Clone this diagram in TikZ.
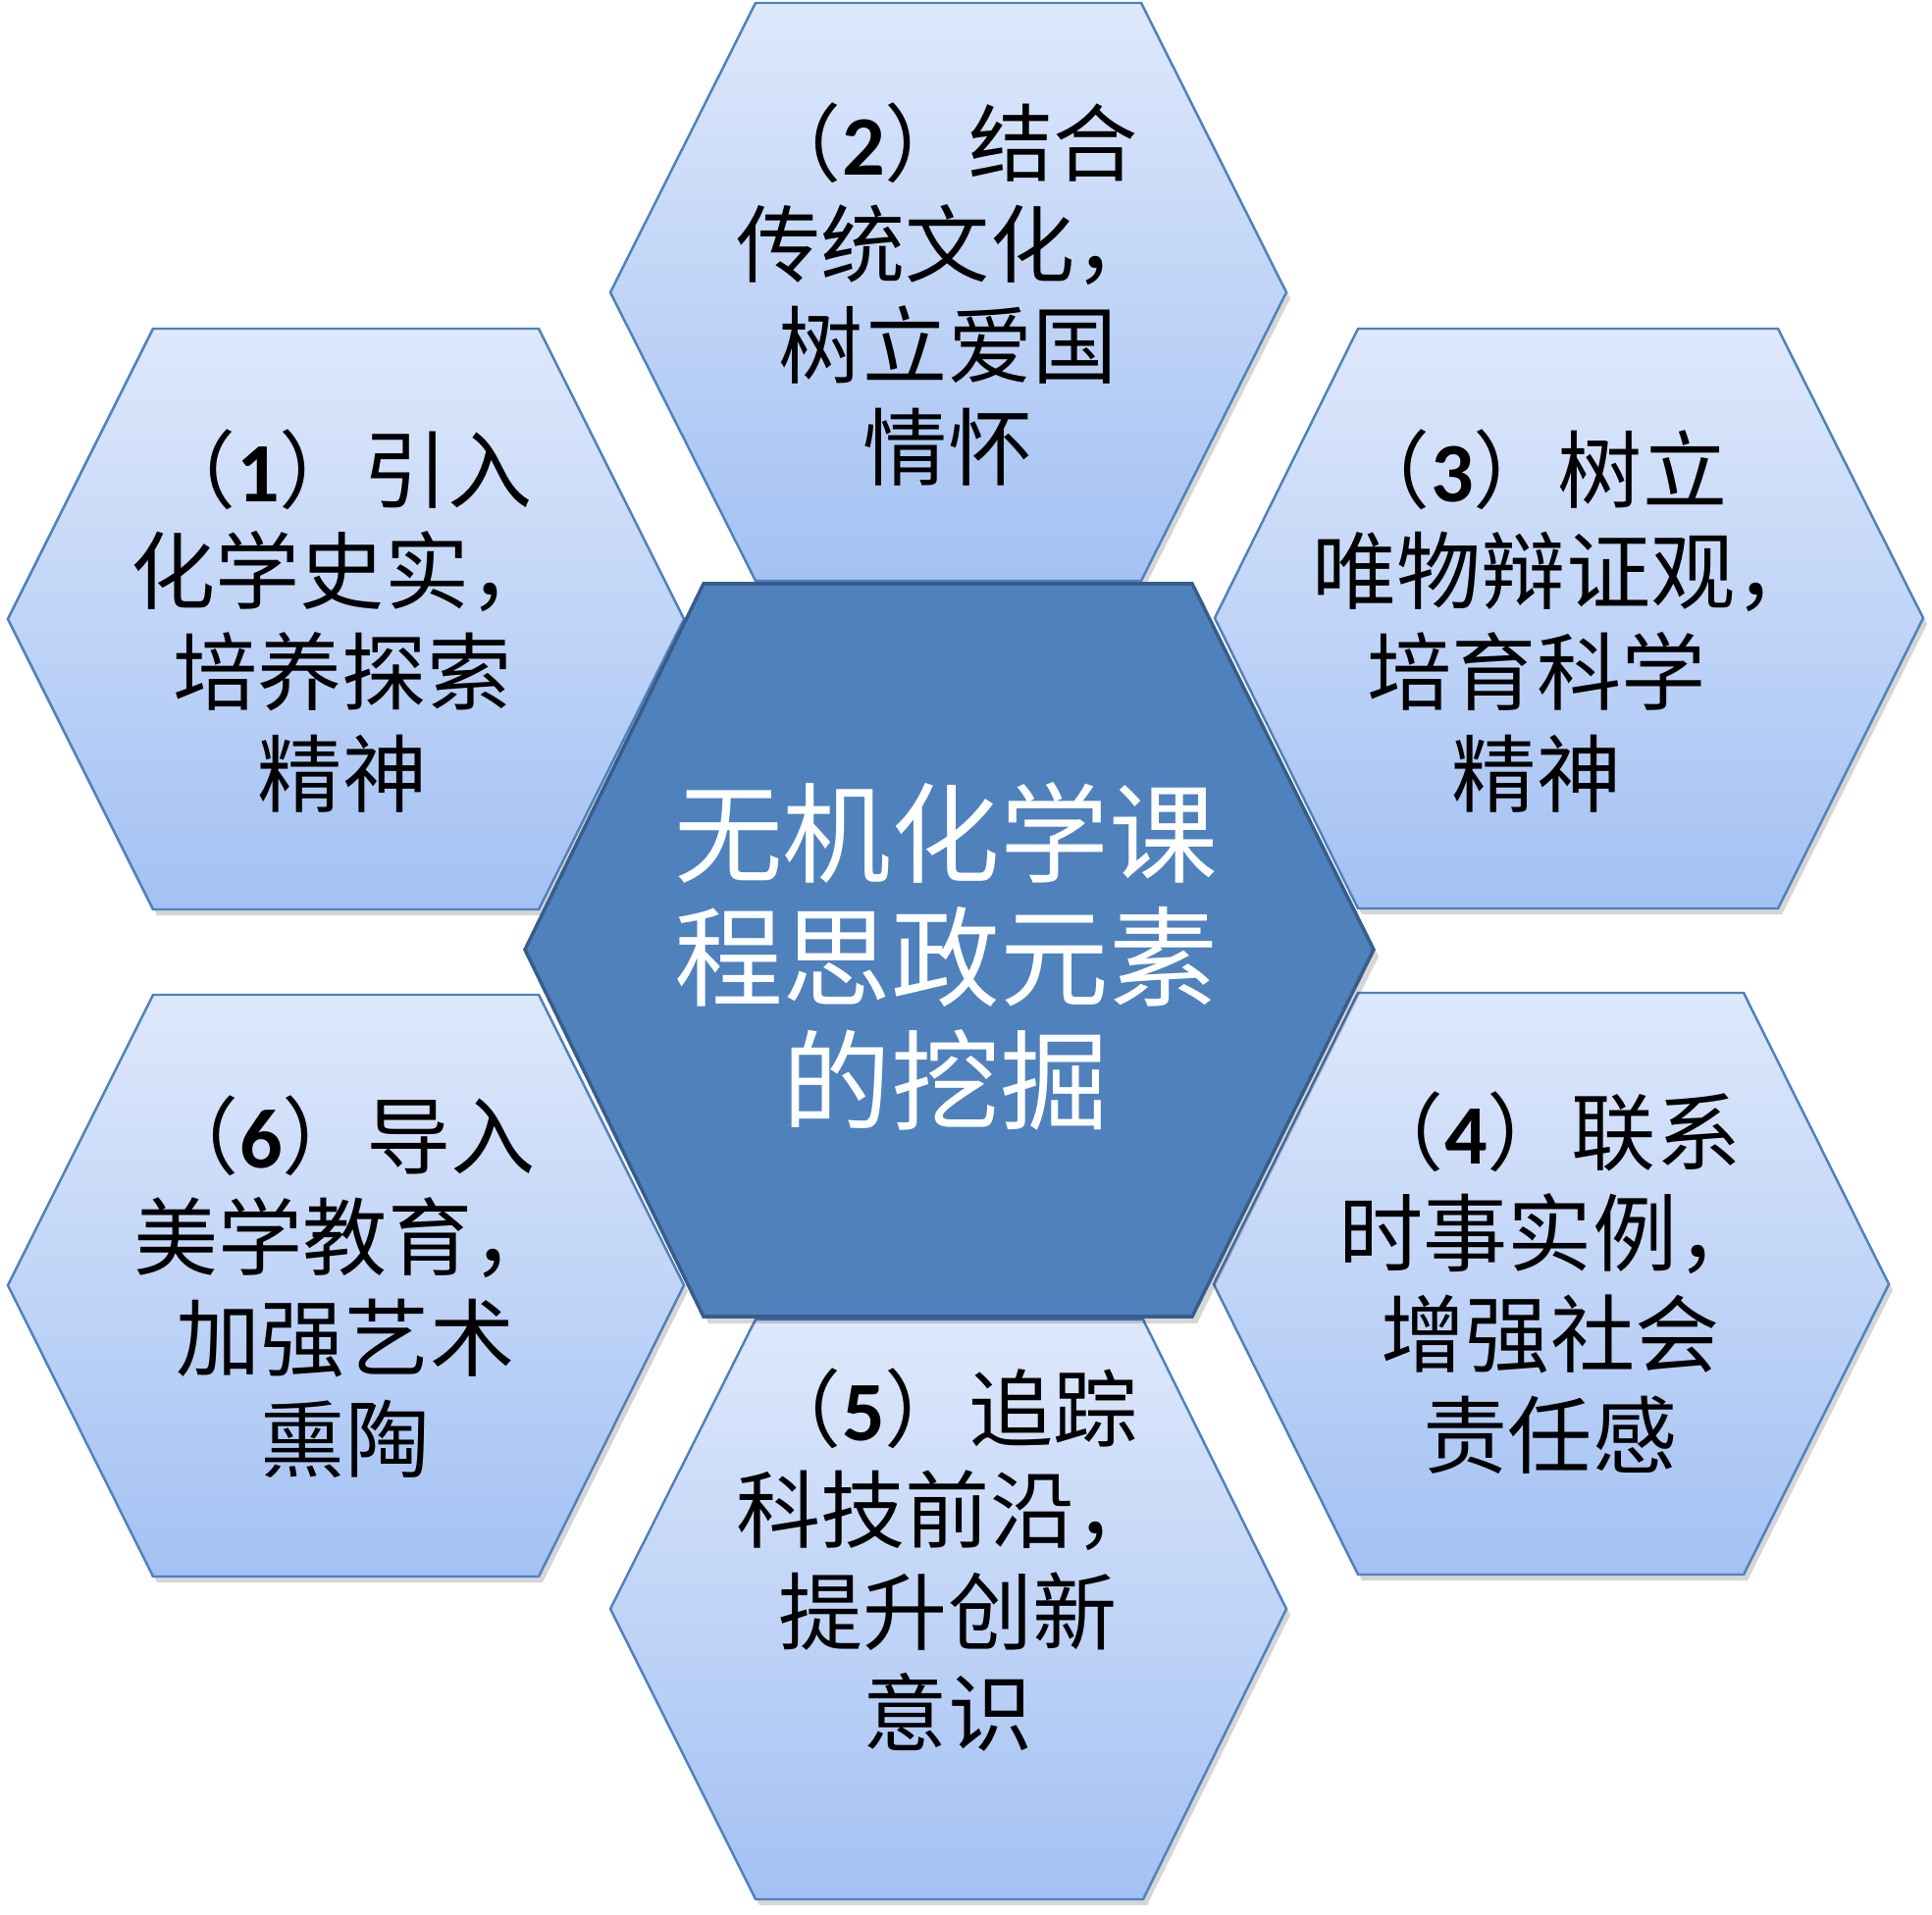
\documentclass[tikz,border=0pt]{standalone}
\usepackage{fontspec}
\newfontfamily\cjk{Noto Sans CJK SC}
\newfontfamily\digfont{Carlito}
\newcommand{\dg}[1]{{\digfont\bfseries #1}}
\definecolor{hexTop}{RGB}{222,232,251}
\definecolor{hexBot}{RGB}{163,193,243}
\definecolor{hexLine}{RGB}{79,129,189}
\definecolor{ctrFill}{RGB}{79,129,189}
\definecolor{ctrLine}{RGB}{56,93,138}
\tikzset{
  outerhex/.style={top color=hexTop, bottom color=hexBot, draw=hexLine, line width=0.7pt, line join=miter},
  ctrhex/.style={fill=ctrFill, draw=ctrLine, line width=1pt, line join=miter},
  hexshadow/.style={fill=black, opacity=0.16},
  outertext/.style={font=\cjk\fontsize{24.5pt}{29.3pt}\selectfont, align=center, inner sep=0pt, text=black},
  ctrtext/.style={font=\cjk\fontsize{31.5pt}{35.8pt}\selectfont, align=center, inner sep=0pt, text=white},
}
\begin{document}
\begin{tikzpicture}[x=0.01cm, y=-0.01cm]
\useasboundingbox (0,0) rectangle (1969,1952);
\fill[white] (0,0) rectangle (1969,1952);
% shadows
\begin{scope}[shift={(4,6)}]
\fill[hexshadow] (8,631) -- (156,335) -- (549,335) -- (697,631) -- (549,927) -- (156,927) -- cycle;
\fill[hexshadow] (622,298) -- (770,3) -- (1163,3) -- (1311,298) -- (1163,592) -- (770,592) -- cycle;
\fill[hexshadow] (1238,630) -- (1384,335) -- (1812,335) -- (1960,630) -- (1812,926) -- (1384,926) -- cycle;
\fill[hexshadow] (1237,1309) -- (1384,1012) -- (1777,1012) -- (1925,1309) -- (1777,1605) -- (1384,1605) -- cycle;
\fill[hexshadow] (622,1640) -- (770,1345) -- (1165,1345) -- (1311,1640) -- (1165,1936) -- (770,1936) -- cycle;
\fill[hexshadow] (8,1310) -- (156,1014) -- (549,1014) -- (697,1310) -- (549,1607) -- (156,1607) -- cycle;
\end{scope}
% outer hexagons
\path[outerhex] (8,631) -- (156,335) -- (549,335) -- (697,631) -- (549,927) -- (156,927) -- cycle;
\path[outerhex] (622,298) -- (770,3) -- (1163,3) -- (1311,298) -- (1163,592) -- (770,592) -- cycle;
\path[outerhex] (1238,630) -- (1384,335) -- (1812,335) -- (1960,630) -- (1812,926) -- (1384,926) -- cycle;
\path[outerhex] (1237,1309) -- (1384,1012) -- (1777,1012) -- (1925,1309) -- (1777,1605) -- (1384,1605) -- cycle;
\path[outerhex] (622,1640) -- (770,1345) -- (1165,1345) -- (1311,1640) -- (1165,1936) -- (770,1936) -- cycle;
\path[outerhex] (8,1310) -- (156,1014) -- (549,1014) -- (697,1310) -- (549,1607) -- (156,1607) -- cycle;
% center hexagon
\fill[hexshadow, shift={(5,7)}] (535,968) -- (717,595) -- (1215,595) -- (1400,968) -- (1215,1342) -- (717,1342) -- cycle;
\path[ctrhex] (535,968) -- (717,595) -- (1215,595) -- (1400,968) -- (1215,1342) -- (717,1342) -- cycle;
% texts
\node[outertext] (t1) at (349,633) {（\dg{1}）引入\\化学史实，\\培养探索\\精神};
\node[outertext] (t2) at (966,300) {（\dg{2}）结合\\传统文化，\\树立爱国\\情怀};
\node[outertext] (t3) at (1566,633) {（\dg{3}）树立\\\hspace*{0.6cm}唯物辩证观，\\培育科学\\精神};
\node[outertext] (t4) at (1580,1308) {（\dg{4}）联系\\时事实例，\\增强社会\\责任感};
\node[outertext] (t5) at (966,1590) {（\dg{5}）追踪\\科技前沿，\\提升创新\\意识};
\node[outertext] (t6) at (352,1312) {（\dg{6}）导入\\美学教育，\\加强艺术\\熏陶};
\node[ctrtext] (c) at (964,975) {无机化学课\\程思政元素\\的挖掘};
\end{tikzpicture}
\end{document}
